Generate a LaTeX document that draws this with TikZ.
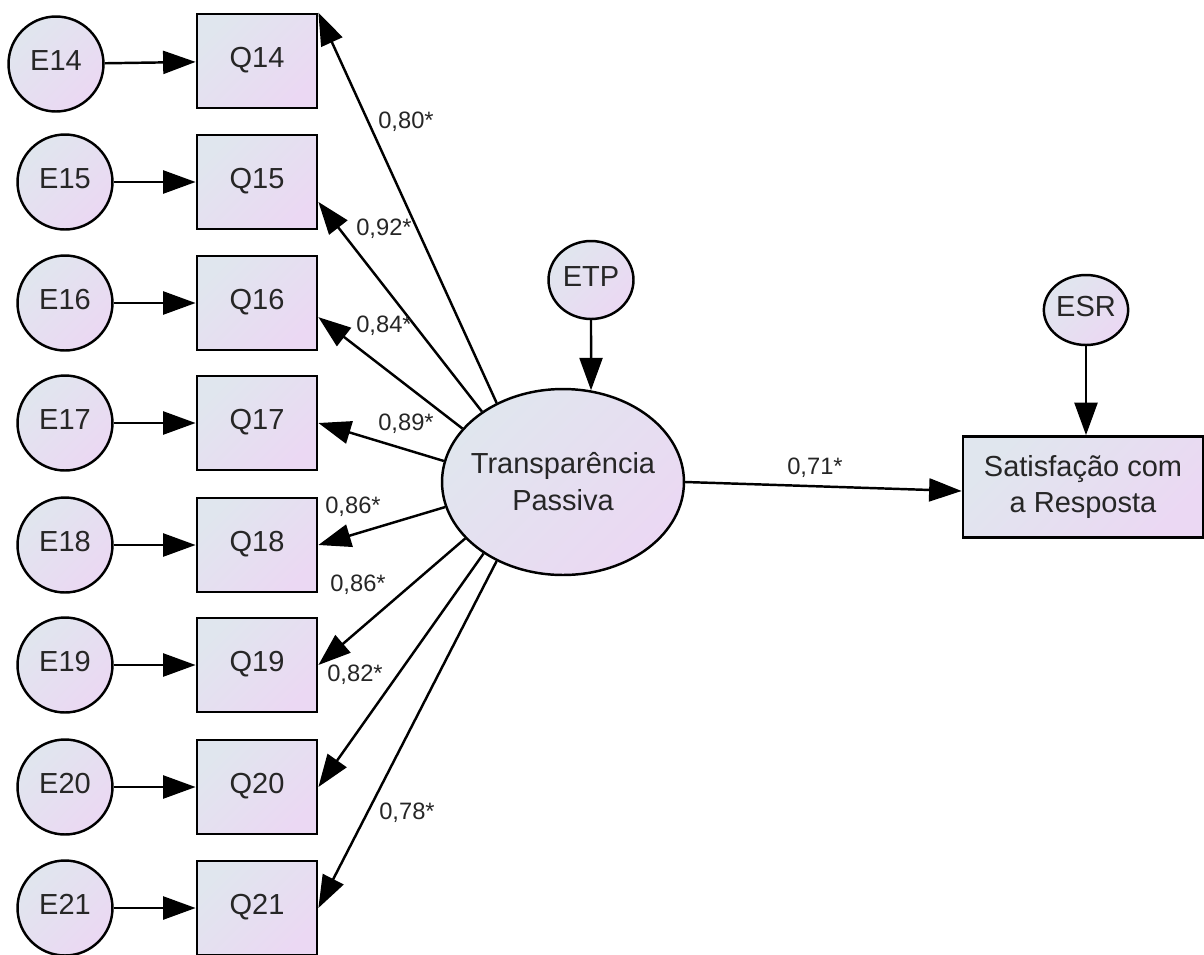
\documentclass[tikz,border=0pt]{standalone}
\usepackage{fontspec}
\setmainfont{Liberation Sans}
\usetikzlibrary{arrows.meta,shapes.geometric}
\definecolor{shadeA}{HTML}{E0E6EE}
\definecolor{shadeB}{HTML}{EBD8F3}
\begin{document}
\begin{tikzpicture}[x=0.02cm,y=-0.02cm,
	every node/.style={font=\fontsize{16.5}{21}\selectfont,align=center,text=black!85},
	lat/.style={ellipse,draw,line width=1.4pt,inner sep=0pt,top color=shadeA,bottom color=shadeB,shading angle=45},
	obs/.style={rectangle,draw,line width=1.6pt,inner sep=0pt,top color=shadeA,bottom color=shadeB,shading angle=45},
	oneline/.style={text height=0.72em,text depth=0pt},
	coef/.style={font=\fontsize{13.5}{16}\selectfont},
	link/.style={->,line width=1.4pt},
	>={Triangle[length=6.5mm,width=4.6mm]}]
	\useasboundingbox (0,0) rectangle (1204,954);
	\foreach \n/\ex/\ey/\y in {14/56/64/61,15/65/182/182,16/65/303/303,17/65/423/423,18/65/545/545,19/65/665/665,20/65/787/787,21/65/908/908}{
		\node[lat,oneline,minimum size=1.9cm] (E\n) at (\ex,\ey) {E\n};
		\node[obs,oneline,minimum width=2.4cm,minimum height=1.88cm] (Q\n) at (257,\y) {Q\n};
		\draw[link] (E\n) -- (Q\n);
	}
	\node[lat,minimum width=4.84cm,minimum height=3.72cm,inner xsep=-0.15cm] (TP) at (563,482) {Transparência\\Passiva};
	\node[lat,oneline,minimum width=1.7cm,minimum height=1.56cm] (ETP) at (591,280) {ETP};
	\node[lat,oneline,minimum width=1.62cm,minimum height=1.4cm] (ESR) at (1086,310) {ESR};
	\node[obs,minimum width=4.8cm,minimum height=2.02cm] (SR) at (1083,487) {Satisfação com\\a Resposta};
	\foreach \n/\a/\b in {14/130/north east,15/139/-18,16/152/-13,17/170/east,18/192/east,19/210/east,20/222/east,21/230/east}
	\draw[link] (TP.\a) -- (Q\n.\b);
	\draw[link] (ETP) -- (TP.73);
	\draw[link] (ESR) -- (ESR |- SR.north);
	\draw[link] (TP.east) -- ([yshift=-0.08cm]SR.west);
	% coefficients
	\node[coef] (c14) at (406,122) {0,80*};
	\node[coef] (c15) at (384,229) {0,92*};
	\node[coef] (c16) at (384,326) {0,84*};
	\node[coef] (c17) at (406,424) {0,89*};
	\node[coef] (c18) at (353,507) {0,86*};
	\node[coef] (c19) at (358,585) {0,86*};
	\node[coef] (c20) at (355,675) {0,82*};
	\node[coef] (c21) at (407,813) {0,78*};
	\node[coef] (c22) at (815,468) {0,71*};
\end{tikzpicture}
\end{document}
